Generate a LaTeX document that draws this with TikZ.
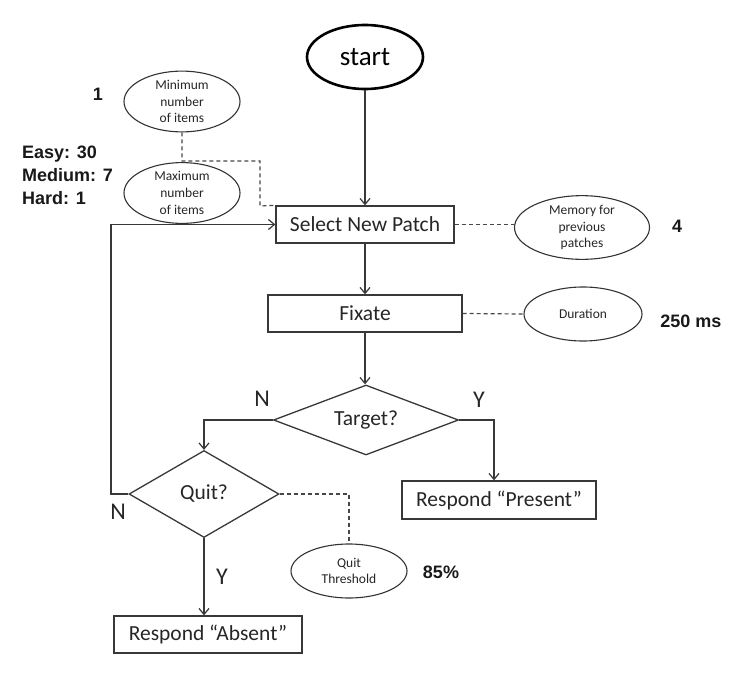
\documentclass[tikz,border=0pt]{standalone}
\usepackage{fontspec}
\setmainfont{Carlito}
\newfontfamily\arialb{Liberation Sans}
\usetikzlibrary{shapes.geometric,arrows.meta}
\begin{document}
\begin{tikzpicture}[x=1pt,y=-1pt,
  ln/.style={draw=black!78,line width=1.3pt},
  arr/.style={ln,-{Straight Barb[length=6pt,width=10pt,line width=1.2pt]}},
  dsh/.style={draw=black!72,line width=1.2pt,dash pattern=on 4pt off 3pt},
  box/.style={ln,rectangle,inner sep=0pt,font=\fontsize{21.5}{24}\selectfont,text=black!85},
  dia/.style={ln,diamond,inner sep=0pt,aspect=2.5,font=\fontsize{21.5}{24}\selectfont,text=black!85},
  ell/.style={draw=black!80,line width=1.1pt,ellipse,inner sep=0pt,align=center,font=\fontsize{13.5}{16.8}\selectfont,text=black!85},
  bl/.style={font=\arialb\bfseries\fontsize{18}{23}\selectfont,text=black!90,inner sep=0pt},
  yn/.style={font=\fontsize{24}{26}\selectfont,text=black!85,inner sep=0pt}]
\useasboundingbox (0,0) rectangle (750,677);
\node[draw=black,line width=2.6pt,ellipse,minimum width=116pt,minimum height=64pt,inner sep=0pt,font=\fontsize{27}{30}\selectfont] (start) at (365,57) {start};
\node[box,minimum width=178pt,minimum height=37pt] (sel) at (365,224.5) {Select New Patch};
\node[box,minimum width=194pt,minimum height=37pt] (fix) at (365,313.5) {Fixate};
\node[dia,minimum width=185pt,minimum height=70pt] (tgt) at (366,420) {Target?};
\node[dia,minimum width=150pt,minimum height=87pt] (quit) at (204,494) {Quit?};
\node[box,minimum width=194pt,minimum height=38pt] (pres) at (499,500) {Respond “Present”};
\node[box,minimum width=188pt,minimum height=37pt] (abs) at (208,634.5) {Respond “Absent”};
\node[ell,minimum width=116pt,minimum height=53pt] (minE) at (182,101.5) {Minimum\\number\\of items};
\node[ell,minimum width=116pt,minimum height=54pt] (maxE) at (182,193) {Maximum\\number\\of items};
\node[ell,minimum width=135pt,minimum height=49pt] (memE) at (582,227.5) {Memory for\\previous\\patches};
\node[ell,minimum width=118pt,minimum height=54pt] (durE) at (583,314) {Duration};
\node[ell,minimum width=116pt,minimum height=54pt] (qtE) at (349,571) {Quit\\Threshold};
\node[bl] (one) at (98,94) {1};
\node[bl,align=left,anchor=north west] (emh) at (22,146) {Easy: 30\\Medium: 7\\Hard: 1};
\node[bl] (four) at (677,226) {4};
\node[bl] (ms) at (691,321) {250 ms};
\node[bl] (pct) at (441,572) {85\%};
\node[yn] (n1) at (262,399) {N};
\node[yn] (y1) at (479,400) {Y};
\node[yn] (n2) at (118,512) {N};
\node[yn] (y2) at (222,577) {Y};
\coordinate (j) at (182,161);
\coordinate (tr) at (494,420);
\draw[arr] (start) -- (sel);
\draw[arr] (sel) -- (fix);
\draw[arr] (fix.south) -- (fix.south |- tgt.north);
\draw[arr] (tgt.west) -| (quit.north);
\draw[arr] (tgt.east) -- (tr) -- (tr |- pres.north);
\draw[arr] (quit.south) -- (quit.south |- abs.north);
\draw[arr] (quit.west) -- (111,494) |- (sel.west);
\draw[dsh] (minE.south) -- (j) -| (260,206) -- (sel.north west);
\draw[dsh] (sel.east) -- (memE.west |- sel.east);
\draw[dsh] (fix.east) -- (durE.west);
\draw[dsh] (quit.east) -| (qtE.north);
\end{tikzpicture}
\end{document}
